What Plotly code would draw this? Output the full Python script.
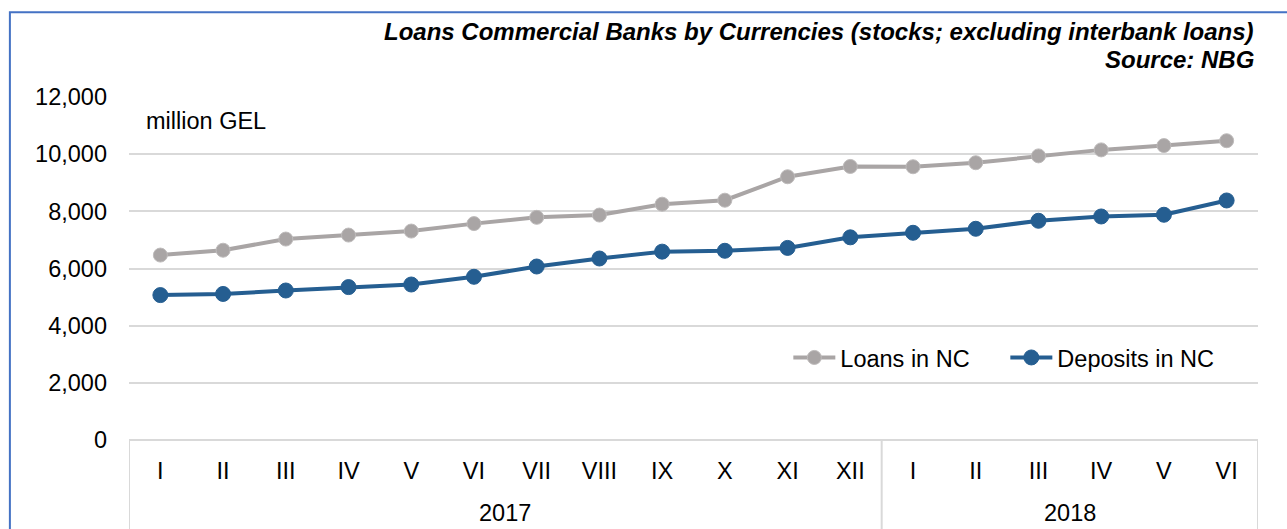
import plotly.graph_objects as go

# Monthly stocks, million GEL
years = ["2017"] * 12 + ["2018"] * 6
months = ["I", "II", "III", "IV", "V", "VI", "VII", "VIII", "IX", "X", "XI", "XII",
          "I", "II", "III", "IV", "V", "VI"]
loans_nc = [6470, 6640, 7030, 7170, 7310, 7570, 7790, 7870, 8250, 8390, 9210, 9570,
            9560, 9700, 9940, 10150, 10300, 10470]
deposits_nc = [5070, 5110, 5230, 5350, 5440, 5710, 6070, 6350, 6590, 6620, 6720, 7090,
               7250, 7390, 7670, 7820, 7880, 8380]
y_ticks = [0, 2000, 4000, 6000, 8000, 10000, 12000]

GRAY = "#A9A5A5"
BLUE = "#255E91"
GRID = "#D9D9D9"
FONT = "Liberation Sans, Arial, sans-serif"
FS = 23.5

idx = list(range(len(months)))

fig = go.Figure()
fig.add_trace(go.Scatter(
    x=idx, y=loans_nc, name="Loans in NC", mode="lines+markers",
    line=dict(color=GRAY, width=4),
    marker=dict(color=GRAY, size=14, line=dict(color="#BEBBBB", width=1)),
))
fig.add_trace(go.Scatter(
    x=idx, y=deposits_nc, name="Deposits in NC", mode="lines+markers",
    line=dict(color=BLUE, width=4),
    marker=dict(color=BLUE, size=15, line=dict(color=BLUE, width=1)),
))

# Group boundaries for the year band under the month labels
groups = []
start = 0
for i in range(1, len(years) + 1):
    if i == len(years) or years[i] != years[start]:
        groups.append((years[start], start, i - 1))
        start = i

shapes = []
annotations = []
for name, a, b in groups:
    annotations.append(dict(
        x=(a + b) / 2, y=-0.213, xref="x", yref="paper", text=name,
        showarrow=False, yanchor="middle",
        font=dict(family=FONT, size=FS, color="#000000"),
    ))
bounds = sorted({g[1] - 0.5 for g in groups} | {g[2] + 0.5 for g in groups})
for bx in bounds:
    shapes.append(dict(
        type="line", xref="x", yref="paper", x0=bx, x1=bx, y0=0, y1=-0.3,
        line=dict(color=GRID, width=2),
    ))

# Frame around the chart area (left and top edges visible)
shapes.append(dict(
    type="rect", xref="paper", yref="paper", x0=-0.1055, x1=1.2, y0=-0.5, y1=1.247,
    line=dict(color="#4472C4", width=2), layer="below",
))

annotations += [
    dict(x=0.998, y=1.19, xref="paper", yref="paper", xanchor="right", yanchor="middle",
         text="<b><i>Loans Commercial Banks by Currencies (stocks; excluding interbank loans)</i></b>",
         showarrow=False, font=dict(family=FONT, size=24, color="#000000")),
    dict(x=0.998, y=1.108, xref="paper", yref="paper", xanchor="right", yanchor="middle",
         text="<b><i>Source: NBG</i></b>",
         showarrow=False, font=dict(family=FONT, size=24, color="#000000")),
    dict(x=0.013, y=0.93, xref="paper", yref="paper", xanchor="left", yanchor="middle",
         text="million GEL", showarrow=False,
         font=dict(family=FONT, size=FS, color="#000000")),
]

fig.update_layout(
    width=1287, height=529,
    margin=dict(l=129, r=29, t=97, b=89),
    paper_bgcolor="#FFFFFF", plot_bgcolor="#FFFFFF",
    font=dict(family=FONT, size=FS, color="#000000"),
    showlegend=True,
    legend=dict(
        orientation="h", x=0.584, xanchor="left", y=0.24, yanchor="middle",
        font=dict(family=FONT, size=FS, color="#000000"),
        bgcolor="rgba(0,0,0,0)", itemwidth=42, tracegroupgap=0,
        entrywidth=160, entrywidthmode="pixels",
    ),
    xaxis=dict(
        range=[-0.5, len(months) - 0.5],
        tickmode="array", tickvals=idx, ticktext=months,
        showgrid=False, zeroline=False, showline=False, ticks="",
        ticklabelstandoff=14,
        tickfont=dict(family=FONT, size=FS, color="#000000"),
    ),
    yaxis=dict(
        range=[0, 12000], tickmode="array", tickvals=y_ticks,
        tickformat=",d", showgrid=True, gridcolor=GRID, gridwidth=2,
        zeroline=True, zerolinecolor=GRID, zerolinewidth=2,
        showline=False, ticks="", ticklabelstandoff=21,
        tickfont=dict(family=FONT, size=FS, color="#000000"),
    ),
    shapes=shapes,
    annotations=annotations,
)

fig.write_html("out.html")
